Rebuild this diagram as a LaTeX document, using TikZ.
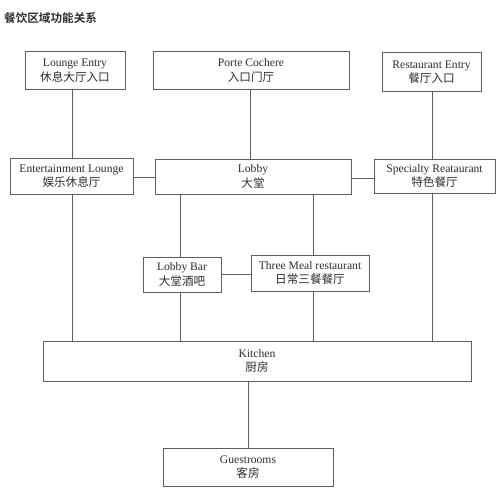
\documentclass[tikz,border=0pt]{standalone}
\usepackage{fontspec}
\setmainfont{Liberation Serif}
\newfontfamily\cjk{Noto Sans CJK SC}
\newfontfamily\cjkb{Noto Sans CJK SC Bold}
\definecolor{txt}{HTML}{2E2E2E}
\definecolor{ln}{HTML}{5E5E5E}
\tikzset{
  box/.style={draw=ln, line width=1pt, fill=white, inner sep=0pt, align=center,
    text=txt, font=\fontsize{11.6}{14.5}\selectfont},
  link/.style={draw=ln, line width=1pt}
}
\newcommand{\bx}[7]{% name, x1,y1,x2,y2, en, cn
  \node[box, minimum width={#4-#2}, minimum height={#5-#3}] (#1) at ({(#2+#4)/2},{(#3+#5)/2}) {#6\\{\cjk\fontsize{11.6}{14}\selectfont #7}};}
\begin{document}
\begin{tikzpicture}[x=1pt,y=-1pt]
\useasboundingbox[fill=white] (0,0) rectangle (500,495);
\node[anchor=west, text=txt, inner sep=0pt, font=\cjkb\fontsize{11.6}{13}\selectfont] (title) at (4,18) {餐饮区域功能关系};
\bx{lounge}{25}{52}{125}{89}{Lounge Entry}{休息大厅入口}
\bx{porte}{153}{52}{349}{89}{Porte Cochere}{入口门厅}
\bx{rest}{382}{53}{481}{91}{Restaurant Entry}{餐厅入口}
\bx{ent}{10}{158}{133}{194}{Entertainment Lounge}{娱乐休息厅}
\bx{lobby}{155}{159}{351}{194}{Lobby}{大堂}
\bx{spec}{374}{159}{495}{193}{Specialty Reataurant}{特色餐厅}
\bx{bar}{143}{257}{221}{292}{Lobby Bar}{大堂酒吧}
\bx{meal}{251}{255}{369}{291}{Three Meal restaurant}{日常三餐餐厅}
\bx{kitchen}{43}{341}{471}{381}{Kitchen}{厨房}
\bx{guest}{163}{448}{333}{486}{Guestrooms}{客房}
\coordinate (xa) at (72,0);
\coordinate (xb) at (250,0);
\coordinate (xc) at (432,0);
\coordinate (xd) at (180,0);
\coordinate (xe) at (313,0);
\coordinate (xf) at (248,0);
\coordinate (ya) at (0,177);
\coordinate (yb) at (0,178);
\coordinate (yc) at (0,274);
\draw[link] (lounge.south -| xa) -- (ent.north -| xa);
\draw[link] (porte.south -| xb) -- (lobby.north -| xb);
\draw[link] (rest.south -| xc) -- (spec.north -| xc);
\draw[link] (ent.east |- ya) -- (lobby.west |- ya);
\draw[link] (lobby.east |- yb) -- (spec.west |- yb);
\draw[link] (ent.south -| xa) -- (kitchen.north -| xa);
\draw[link] (lobby.south -| xd) -- (bar.north -| xd);
\draw[link] (bar.south -| xd) -- (kitchen.north -| xd);
\draw[link] (lobby.south -| xe) -- (meal.north -| xe);
\draw[link] (meal.south -| xe) -- (kitchen.north -| xe);
\draw[link] (bar.east |- yc) -- (meal.west |- yc);
\draw[link] (spec.south -| xc) -- (kitchen.north -| xc);
\draw[link] (kitchen.south -| xf) -- (guest.north -| xf);
\end{tikzpicture}
\end{document}
